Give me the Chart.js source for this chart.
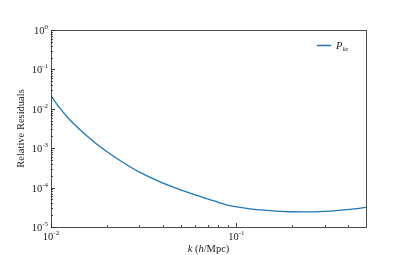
<!DOCTYPE html>
<html>
<head>
<meta charset="utf-8">
<script src="https://cdn.jsdelivr.net/npm/chart.js@4/dist/chart.umd.min.js"></script>
<style>
  html, body { margin: 0; padding: 0; background: #fff; }
  #wrap { width: 407px; height: 255px; }
</style>
</head>
<body>
<div id="wrap"><canvas id="chart" width="407" height="255"></canvas></div>
<script>
// data
const kValues = [0.0100, 0.01118, 0.01266, 0.01434, 0.01727, 0.02081, 0.02507, 0.0302, 0.0364, 0.04385,
                 0.0528, 0.0636, 0.0766, 0.0924, 0.1184, 0.1518, 0.1946, 0.2495, 0.3198, 0.4100, 0.500];
const residuals = [2.14e-2, 1.02e-2, 5.2e-3, 2.93e-3, 1.38e-3, 7.21e-4, 4.04e-4, 2.43e-4, 1.60e-4, 1.10e-4,
                   7.98e-5, 5.98e-5, 4.52e-5, 3.47e-5, 2.88e-5, 2.59e-5, 2.44e-5, 2.42e-5, 2.53e-5, 2.81e-5, 3.14e-5];
const xMajorTicks = [0.01, 0.1];
const yMajorTicks = [1e-5, 1e-4, 1e-3, 1e-2, 1e-1, 1];
const xTickExp = ['-2', '-1'];
const yTickExp = ['-5', '-4', '-3', '-2', '-1', '0'];
const seriesLabel = 'P';
const seriesSub = 'lα';

const lineColor = '#1f77b4';
const frameColor = '#4d4d4d';
const lserif = '"Liberation Serif", "DejaVu Serif", serif';

// ---------- helpers ----------
function minorTicks(min, max){
  const out = [];
  for(let d = Math.floor(Math.log10(min)); d <= Math.ceil(Math.log10(max)); d++){
    for(let m = 2; m <= 9; m++){
      const v = m * Math.pow(10, d);
      if(v > min && v < max) out.push(v);
    }
  }
  return out;
}

// "10" with a raised exponent
function powLabel(ctx, x, y, exp, align){
  ctx.font = '10.5px ' + lserif;
  const wb = ctx.measureText('10').width;
  ctx.font = '7px ' + lserif;
  const we = ctx.measureText(exp).width;
  let x0 = x;
  if(align === 'right') x0 = x - wb - we;
  else if(align === 'center') x0 = x - (wb + we) / 2;
  ctx.textAlign = 'left';
  ctx.textBaseline = 'alphabetic';
  ctx.font = '10.5px ' + lserif;
  ctx.fillText('10', x0, y);
  ctx.font = '7px ' + lserif;
  ctx.fillText(exp, x0 + wb, y - 5);
}

// ---------- frame, ticks, labels, legend ----------
const decorPlugin = {
  id: 'decor',
  afterDraw(chart){
    const ctx = chart.ctx;
    const a = chart.chartArea;
    const xs = chart.scales.x, ys = chart.scales.y;
    ctx.save();
    ctx.strokeStyle = frameColor;
    ctx.lineWidth = 1;
    ctx.strokeRect(Math.round(a.left) + 0.5, Math.round(a.top) + 0.5,
                   Math.round(a.right - a.left), Math.round(a.bottom - a.top));

    // inward ticks
    ctx.strokeStyle = '#222';
    ctx.lineWidth = 0.8;
    ctx.beginPath();
    xMajorTicks.forEach(v => { const px = Math.round(xs.getPixelForValue(v)) + 0.5; ctx.moveTo(px, a.bottom); ctx.lineTo(px, a.bottom - 4); });
    minorTicks(xs.min, xs.max).forEach(v => { const px = Math.round(xs.getPixelForValue(v)) + 0.5; ctx.moveTo(px, a.bottom); ctx.lineTo(px, a.bottom - 2); });
    yMajorTicks.forEach(v => { const py = Math.round(ys.getPixelForValue(v)) + 0.5; ctx.moveTo(a.left, py); ctx.lineTo(a.left + 4, py); });
    minorTicks(ys.min, ys.max).forEach(v => { const py = Math.round(ys.getPixelForValue(v)) + 0.5; ctx.moveTo(a.left, py); ctx.lineTo(a.left + 2, py); });
    ctx.stroke();

    ctx.fillStyle = '#222';
    xMajorTicks.forEach((v, i) => powLabel(ctx, xs.getPixelForValue(v), a.bottom + 13, xTickExp[i], 'center'));
    yMajorTicks.forEach((v, i) => powLabel(ctx, a.left - 3, ys.getPixelForValue(v) + 4, yTickExp[i], 'right'));

    // y title
    ctx.save();
    ctx.translate(21, (a.top + a.bottom) / 2);
    ctx.rotate(-Math.PI / 2);
    ctx.font = '10.5px ' + lserif;
    ctx.textAlign = 'center';
    ctx.textBaseline = 'middle';
    ctx.fillText('Relative Residuals', 0, 0);
    ctx.restore();

    // x title: k (h/Mpc)
    const parts = [['k', 'italic '], [' (', ''], ['h', 'italic '], ['/Mpc)', '']];
    let total = 0;
    parts.forEach(p => { ctx.font = p[1] + '10.5px ' + lserif; total += ctx.measureText(p[0]).width; });
    let cx = (a.left + a.right) / 2 - total / 2;
    ctx.textAlign = 'left';
    ctx.textBaseline = 'alphabetic';
    parts.forEach(p => { ctx.font = p[1] + '10.5px ' + lserif; ctx.fillText(p[0], cx, 252); cx += ctx.measureText(p[0]).width; });

    // legend
    const ly = a.top + 15;
    const lx = a.right - 49;
    ctx.strokeStyle = lineColor;
    ctx.lineWidth = 1.5;
    ctx.beginPath();
    ctx.moveTo(lx, ly + 0.5);
    ctx.lineTo(lx + 14, ly + 0.5);
    ctx.stroke();
    ctx.fillStyle = '#222';
    ctx.font = 'italic 10.5px ' + lserif;
    ctx.fillText(seriesLabel, lx + 19, ly + 4);
    const wp = ctx.measureText(seriesLabel).width;
    ctx.font = 'italic 7px ' + lserif;
    ctx.fillText(seriesSub, lx + 19 + wp, ly + 6);
    ctx.restore();
  }
};

const chart = new Chart(document.getElementById('chart').getContext('2d'), {
  type: 'line',
  data: {
    datasets: [{
      label: seriesLabel + seriesSub,
      data: kValues.map((k, i) => ({ x: k, y: residuals[i] })),
      borderColor: lineColor,
      borderWidth: 1.3,
      pointRadius: 0,
      fill: false,
      cubicInterpolationMode: 'monotone'
    }]
  },
  options: {
    responsive: false,
    animation: false,
    layout: { padding: { left: 51, top: 30, right: 41, bottom: 28 } },
    plugins: { legend: { display: false }, tooltip: { enabled: false } },
    scales: {
      x: { type: 'logarithmic', min: 0.01, max: 0.5, display: false },
      y: { type: 'logarithmic', min: 1e-5, max: 1, display: false }
    }
  },
  plugins: [decorPlugin]
});
</script>
</body>
</html>
